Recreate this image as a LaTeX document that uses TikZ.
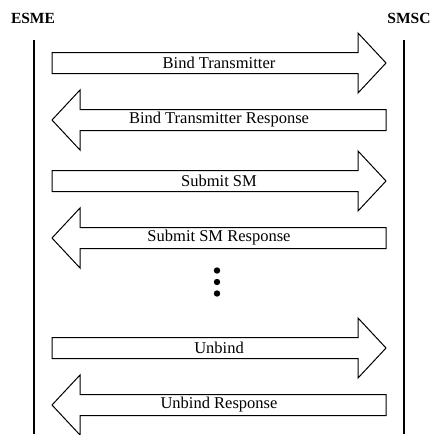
\documentclass[tikz,border=0pt]{standalone}
\usepackage{fontspec}
\setmainfont{Liberation Serif}
\begin{document}
\begin{tikzpicture}[x=1pt,y=-1pt,
  msgline/.style={line width=1pt, fill=white, line join=miter},
  lbl/.style={font=\fontsize{16.5}{17}\selectfont, inner sep=0pt},
  party/.style={font=\fontsize{15.5}{16}\selectfont\bfseries, inner sep=0pt},
  life/.style={line width=1.2pt}]
\useasboundingbox (0,0) rectangle (435,434);
% parties
\node[party] (esme) at (33,18) {ESME};
\node[party] (smsc) at (409,18) {SMSC};
\coordinate (esmetop) at (34,40);
\coordinate (esmebot) at (34,434);
\coordinate (smsctop) at (404,40);
\coordinate (smscbot) at (404,434);
\draw[life] (esmetop) -- (esmebot);
\draw[life] (smsctop) -- (smscbot);
% right arrows
\foreach \c/\n/\t in {63/a1/Bind Transmitter,181/a3/Submit SM,348/a5/Unbind}{
  \draw[msgline] (52,\c-10.5) -- (358,\c-10.5) -- (358,\c-30) -- (386,\c)
     -- (358,\c+30) -- (358,\c+10.5) -- (52,\c+10.5) -- cycle;
  \node[lbl] (\n) at (219,\c) {\t};
}
% left arrows
\foreach \c/\n/\t in {120/a2/Bind Transmitter Response,238/a4/Submit SM Response,405/a6/Unbind Response}{
  \draw[msgline] (386,\c-10.5) -- (80,\c-10.5) -- (80,\c-30) -- (52,\c)
     -- (80,\c+30) -- (80,\c+10.5) -- (386,\c+10.5) -- cycle;
  \node[lbl] (\n) at (219,\c) {\t};
}
% ellipsis dots
\foreach \y/\n in {270.5/d1,282/d2,293.5/d3}{
  \fill (217,\y) circle (3.2);
}
\end{tikzpicture}
\end{document}
